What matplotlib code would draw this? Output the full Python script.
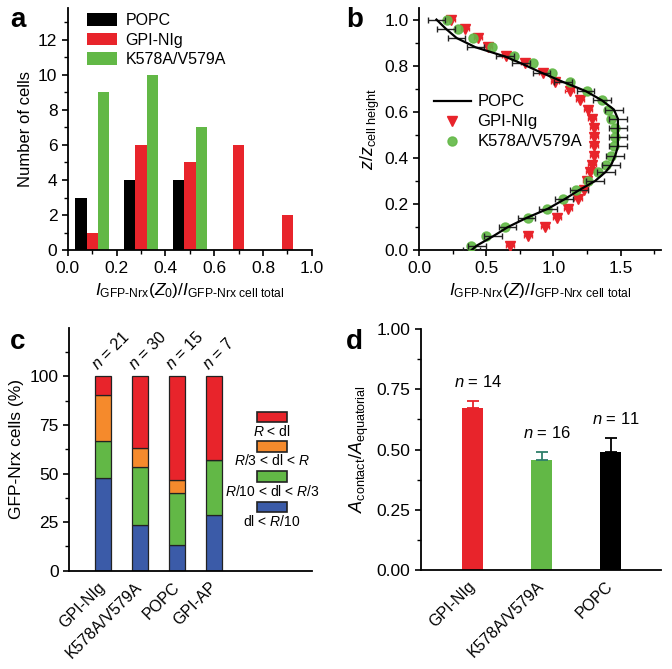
import numpy as np
import matplotlib
matplotlib.use("Agg")
import matplotlib.pyplot as plt
from matplotlib.patches import Rectangle
from matplotlib.ticker import MultipleLocator, FixedLocator, FormatStrFormatter

plt.rcParams['font.family'] = ['Liberation Sans', 'DejaVu Sans']
plt.rcParams['mathtext.fontset'] = 'custom'
plt.rcParams['mathtext.rm'] = 'Liberation Sans'
plt.rcParams['mathtext.it'] = 'Liberation Sans:italic'
plt.rcParams['mathtext.bf'] = 'Liberation Sans:bold'
plt.rcParams['font.size'] = 12

RED = '#e8242b'
GREEN = '#62b846'
BLUE = '#3b5ba8'
ORANGE = '#f58a2c'

# ---- panel a: histogram of I(Z0)/I total
hist_bins = [0.1, 0.3, 0.5, 0.7, 0.9]
popc_counts = [3, 4, 4, 0, 0]
gpi_counts = [1, 6, 5, 6, 2]
k578_counts = [9, 10, 7, 0, 0]

# ---- panel b: profiles along z
z_pts = [0.02, 0.06, 0.10, 0.14, 0.18, 0.22, 0.26, 0.30, 0.34, 0.37, 0.41, 0.45, 0.49,
         0.53, 0.57, 0.61, 0.65, 0.69, 0.73, 0.77, 0.81, 0.84, 0.88, 0.92, 0.96, 1.00]
gpi_prof = [0.68, 0.81, 0.94, 1.03, 1.11, 1.18, 1.23, 1.25, 1.27, 1.285, 1.30, 1.30, 1.30,
            1.30, 1.285, 1.26, 1.20, 1.12, 1.01, 0.92, 0.79, 0.65, 0.51, 0.44, 0.34, 0.24]
k578_prof = [0.39, 0.50, 0.64, 0.81, 0.95, 1.07, 1.17, 1.26, 1.33, 1.39, 1.43, 1.45, 1.46,
             1.46, 1.43, 1.41, 1.36, 1.25, 1.12, 0.99, 0.85, 0.71, 0.54, 0.40, 0.29, 0.21]
popc_z = [0.00] + z_pts
popc_prof = [0.39, 0.43, 0.55, 0.66, 0.80, 0.96, 1.08, 1.19, 1.31, 1.39, 1.43, 1.46, 1.48, 1.48,
             1.48, 1.48, 1.45, 1.36, 1.24, 1.07, 0.91, 0.76, 0.64, 0.42, 0.28, 0.20, 0.13]
popc_err = 0.065
gpi_err = 0.03

# ---- panel c: stacked distribution
c_groups = ['GPI-NIg', 'K578A/V579A', 'POPC', 'GPI-AP']
c_n = [21, 30, 15, 7]
c_blue = [47.6, 23.3, 13.3, 28.6]
c_green = [19.0, 30.0, 26.7, 28.6]
c_orange = [23.8, 10.0, 6.7, 0.0]
c_red = [9.6, 36.7, 53.3, 42.8]
c_labels = [r'$R$ < dl', r'$R$/3 < dl < $R$', r'$R$/10 < dl < $R$/3', r'dl < $R$/10']

# ---- panel d: contact area ratio
d_groups = ['GPI-NIg', 'K578A/V579A', 'POPC']
d_vals = [0.672, 0.458, 0.49]
d_errs = [0.03, 0.032, 0.06]
d_n = [14, 16, 11]

fig = plt.figure(figsize=(6.72, 6.69), dpi=100)
ax_a = fig.add_axes([0.101, 0.626, 0.363, 0.362])
ax_b = fig.add_axes([0.6235, 0.626, 0.360, 0.362])
ax_c = fig.add_axes([0.1027, 0.147, 0.3616, 0.363])
ax_d = fig.add_axes([0.6265, 0.148, 0.357, 0.360])

for ax in (ax_a, ax_b, ax_c, ax_d):
    ax.spines['top'].set_visible(False)
    ax.spines['right'].set_visible(False)
    ax.spines['left'].set_linewidth(1.3)
    ax.spines['bottom'].set_linewidth(1.3)
    ax.tick_params(which='major', direction='out', length=4, width=1.2, labelsize=12.5)
    ax.tick_params(which='minor', direction='out', length=3, width=1.0)

# a
bx = np.array(hist_bins)
w = 0.047
ax_a.bar(bx - w, popc_counts, w, color='black', label='POPC')
ax_a.bar(bx, gpi_counts, w, color=RED, label='GPI-NIg')
ax_a.bar(bx + w, k578_counts, w, color=GREEN, label='K578A/V579A')
ax_a.set_xlim(0, 1.0)
ax_a.set_ylim(0, 13.8)
ax_a.xaxis.set_major_locator(MultipleLocator(0.2))
ax_a.xaxis.set_minor_locator(MultipleLocator(0.1))
ax_a.yaxis.set_major_locator(MultipleLocator(2))
ax_a.yaxis.set_minor_locator(MultipleLocator(1))
ax_a.xaxis.set_major_formatter(FormatStrFormatter('%.1f'))
ax_a.set_ylabel('Number of cells', fontsize=12)
ax_a.set_xlabel(r'$I_{\text{GFP-Nrx}}(Z_0)/I_{\text{GFP-Nrx cell total}}$', fontsize=12.5)
ax_a.legend(loc='upper left', bbox_to_anchor=(0.02, 1.04), frameon=False, fontsize=11.5,
            handlelength=1.9, handleheight=0.85, handletextpad=0.5, labelspacing=0.3)

# b
ax_b.errorbar(popc_prof, popc_z, xerr=popc_err, fmt='none', ecolor='#222222',
              elinewidth=1.0, capsize=2.5, capthick=1.0, zorder=4)
ax_b.errorbar(gpi_prof, z_pts, xerr=gpi_err, fmt='none', ecolor=RED,
              elinewidth=0.8, capsize=1.5, zorder=2)
ax_b.plot(gpi_prof, z_pts, linestyle='none', marker='v', markersize=6.5, color=RED,
          label='GPI-NIg', zorder=3)
ax_b.plot(k578_prof, z_pts, linestyle='none', marker='o', markersize=6.5, color=GREEN,
          alpha=0.9, label='K578A/V579A', zorder=3)
ax_b.plot(popc_prof, popc_z, color='black', lw=1.6, label='POPC', zorder=5)
ax_b.set_xlim(0, 1.8)
ax_b.set_ylim(0, 1.05)
ax_b.xaxis.set_major_locator(MultipleLocator(0.5))
ax_b.xaxis.set_minor_locator(MultipleLocator(0.25))
ax_b.yaxis.set_major_locator(MultipleLocator(0.2))
ax_b.yaxis.set_minor_locator(MultipleLocator(0.1))
ax_b.xaxis.set_major_formatter(FormatStrFormatter('%.1f'))
ax_b.yaxis.set_major_formatter(FormatStrFormatter('%.1f'))
ax_b.set_ylabel(r'$z/z_{\text{cell height}}$', fontsize=13, labelpad=2)
ax_b.set_xlabel(r'$I_{\text{GFP-Nrx}}(Z)/I_{\text{GFP-Nrx cell total}}$', fontsize=12.5)
h, l = ax_b.get_legend_handles_labels()
order = [l.index('POPC'), l.index('GPI-NIg'), l.index('K578A/V579A')]
ax_b.legend([h[i] for i in order], [l[i] for i in order], loc='center left',
            bbox_to_anchor=(0.0, 0.53), frameon=False, fontsize=12,
            handlelength=2.2, handletextpad=0.4, labelspacing=0.3)

# c
cx = np.arange(len(c_groups))
bw = 0.41
bottom = np.zeros(len(c_groups))
for vals, col in ((c_blue, BLUE), (c_green, GREEN), (c_orange, ORANGE), (c_red, RED)):
    ax_c.bar(cx, vals, bw, bottom=bottom, color=col, edgecolor='#222222', linewidth=0.9)
    bottom += np.array(vals)
ax_c.set_xlim(-0.92, 5.65)
ax_c.set_ylim(0, 125)
ax_c.yaxis.set_major_locator(FixedLocator([0, 25, 50, 75, 100]))
ax_c.yaxis.set_minor_locator(FixedLocator([12.5, 37.5, 62.5, 87.5, 112.5]))
ax_c.set_xticks(cx)
ax_c.set_xticklabels(c_groups, rotation=45, ha='right', va='center', rotation_mode='anchor',
                     fontsize=11.5)
ax_c.tick_params(axis='x', length=0, pad=10)
ax_c.set_ylabel('GFP-Nrx cells (%)', fontsize=12.5)
for xi, n in zip(cx, c_n):
    ax_c.text(xi - 0.1, 102, r'$n$ = %d' % n, rotation=45, rotation_mode='anchor',
              ha='left', va='bottom', fontsize=11.5)
leg_cols = [RED, ORANGE, GREEN, BLUE]
patch_y = [0.633, 0.512, 0.388, 0.262]
label_y = [0.571, 0.452, 0.326, 0.202]
for col, py, lab, ly in zip(leg_cols, patch_y, c_labels, label_y):
    ax_c.add_patch(Rectangle((0.774, py - 0.022), 0.123, 0.044, transform=ax_c.transAxes,
                             facecolor=col, edgecolor='#222222', linewidth=1.2, clip_on=False))
    ax_c.text(0.835, ly, lab, transform=ax_c.transAxes, ha='center', va='center', fontsize=10)

# d
dx = np.arange(len(d_groups))
d_cols = [RED, GREEN, 'black']
err_cols = [RED, '#2f7f6a', 'black']
ax_d.bar(dx, d_vals, 0.31, color=d_cols)
for xi, v, e, ec, n in zip(dx, d_vals, d_errs, err_cols, d_n):
    ax_d.errorbar(xi, v, yerr=[[0], [e]], fmt='none', ecolor=ec, elinewidth=1.3,
                  capsize=4, capthick=1.3)
    ax_d.text(xi + 0.08, v + e + 0.045, r'$n$ = %d' % n, ha='center', va='bottom', fontsize=12)
ax_d.set_xlim(-0.75, 2.73)
ax_d.set_ylim(0, 1.0)
ax_d.yaxis.set_major_locator(MultipleLocator(0.25))
ax_d.yaxis.set_minor_locator(MultipleLocator(0.125))
ax_d.yaxis.set_major_formatter(FormatStrFormatter('%.2f'))
ax_d.set_xticks(dx)
ax_d.set_xticklabels(d_groups, rotation=45, ha='right', va='center', rotation_mode='anchor',
                     fontsize=11.5)
ax_d.tick_params(axis='x', length=0, pad=10)
ax_d.set_ylabel(r'$A_{\text{contact}}/A_{\text{equatorial}}$', fontsize=13)

for lab, x, y in (('a', 0.015, 0.99), ('b', 0.515, 0.99), ('c', 0.015, 0.508), ('d', 0.515, 0.508)):
    fig.text(x, y, lab, fontsize=20, fontweight='bold', va='top', ha='left')

fig.savefig('out.png', dpi=100)
